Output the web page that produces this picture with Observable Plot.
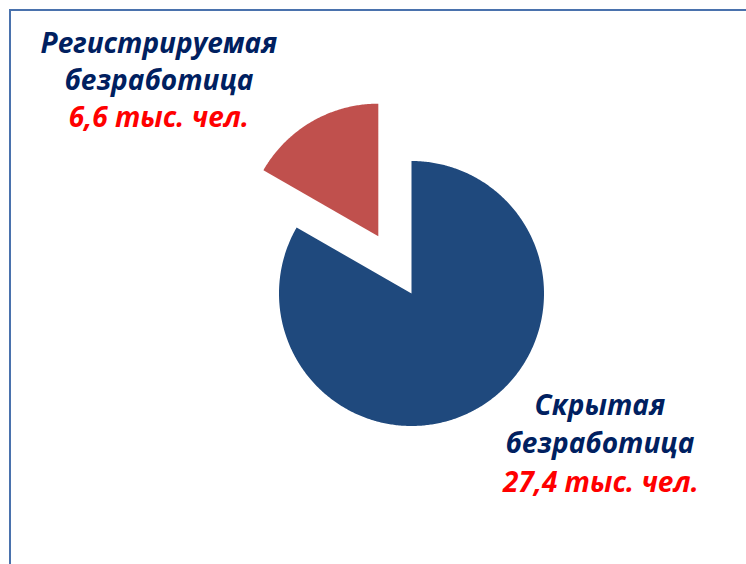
<!DOCTYPE html>
<html>
<head>
<meta charset="utf-8">
<script src="https://cdn.jsdelivr.net/npm/d3@7"></script>
<script src="https://cdn.jsdelivr.net/npm/@observablehq/plot@0.6"></script>
<style>
  html, body { margin: 0; padding: 0; background: #fff; overflow: hidden; }
  #wrap { position: relative; width: 746px; height: 564px; overflow: hidden; }
  #border { position: absolute; left: 9px; top: 9px; width: 800px; height: 600px;
            border-left: 2px solid #4a72ad; border-top: 2px solid #4a72ad; box-sizing: border-box; }
  #chart { position: absolute; left: 0; top: 0; }
</style>
</head>
<body>
<div id="wrap"><div id="border"></div><div id="chart"></div></div>
<script>
// ---- data ----
const categories = ["Регистрируемая\nбезработица", "Скрытая\nбезработица"];
const valueLabels = ["6,6 тыс. чел.", "27,4 тыс. чел."];
const values = [6.6, 27.4];            // thousand people
const sliceShares = [16.7, 83.3];      // slice sizes as drawn in the picture (%)
const sliceColors = ["#c0504d", "#1f497d"];
const explodeFactor = [0.5, 0];

// ---- pie geometry (unit radius) ----
const total = d3.sum(sliceShares);
const slicesData = categories.map((c, i) => ({name: c, label: valueLabels[i], value: values[i], share: sliceShares[i], color: sliceColors[i], explode: explodeFactor[i]}));
const pie = d3.pie().sort(null).value(d => d.share)
  .startAngle(-2 * Math.PI * sliceShares[0] / total)
  .endAngle(2 * Math.PI - 2 * Math.PI * sliceShares[0] / total);
const arcs = pie(slicesData);

const points = [];
const anchors = [];
for (const a of arcs) {
  const mid = (a.startAngle + a.endAngle) / 2;
  const ox = a.data.explode * Math.sin(mid), oy = a.data.explode * Math.cos(mid);
  points.push({name: a.data.name, color: a.data.color, x: ox, y: oy});
  const n = Math.max(8, Math.ceil((a.endAngle - a.startAngle) / 0.01));
  for (let k = 0; k <= n; k++) {
    const t = a.startAngle + (a.endAngle - a.startAngle) * k / n;
    points.push({name: a.data.name, color: a.data.color, x: ox + Math.sin(t), y: oy + Math.cos(t)});
  }
  anchors.push({...a.data, x: ox + Math.sin(mid), y: oy + Math.cos(mid)});
}

const R = 132.5;              // pixels per unit radius
const cx = 411, cy = 293;     // pie centre in pixels
const W = 746, H = 564;

const font = "'Open Sans', Lato, sans-serif";
const textStyle = {fontFamily: font, fontWeight: "bold", fontStyle: "italic", fontSize: 28, textAnchor: "middle", lineAnchor: "middle", lineHeight: 1.34};

const chart = Plot.plot({
  width: W, height: H,
  margin: 0,
  x: {domain: [-cx / R, (W - cx) / R], axis: null},
  y: {domain: [-(H - cy) / R, cy / R], axis: null},
  color: {type: "identity"},
  style: {background: "transparent", overflow: "visible"},
  marks: [
    Plot.line(points, {x: "x", y: "y", z: "name", fill: "color", stroke: null}),
    Plot.text(anchors.filter((d, i) => i === 0), {x: "x", y: "y", text: "name", fill: "#002060", dx: -153, dy: -62, ...textStyle}),
    Plot.text(anchors.filter((d, i) => i === 0), {x: "x", y: "y", text: "label", fill: "#ff0000", dx: -153, dy: -6, ...textStyle}),
    Plot.text(anchors.filter((d, i) => i === 1), {x: "x", y: "y", text: "name", fill: "#002060", dx: 122, dy: 14, ...textStyle}),
    Plot.text(anchors.filter((d, i) => i === 1), {x: "x", y: "y", text: "label", fill: "#ff0000", dx: 123, dy: 71.5, ...textStyle})
  ]
});
document.getElementById("chart").appendChild(chart);
</script>
</body>
</html>
